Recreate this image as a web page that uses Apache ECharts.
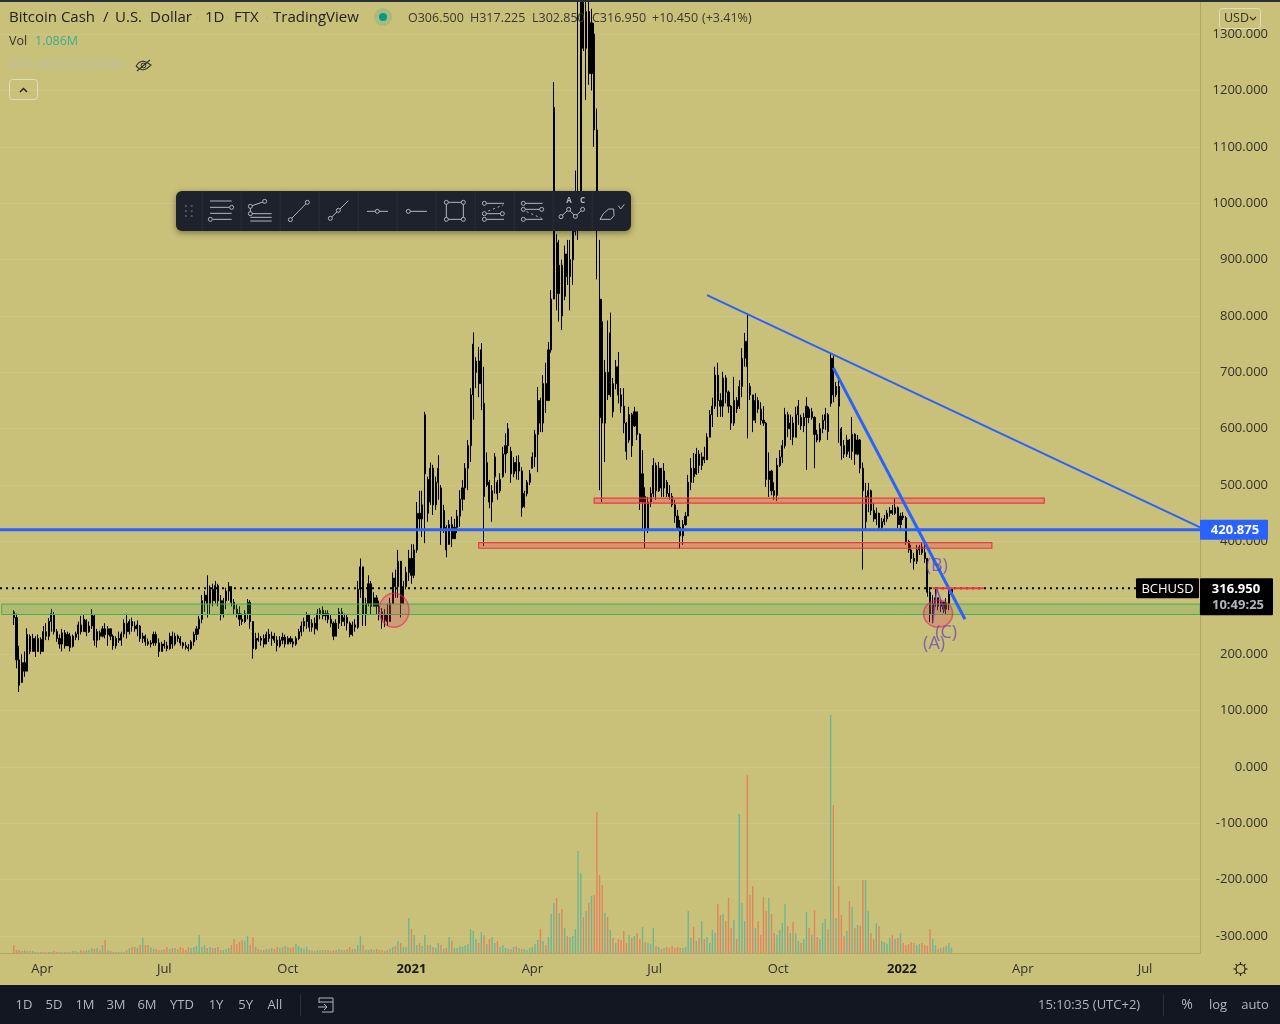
<!DOCTYPE html>
<html><head><meta charset="utf-8"><title>BCHUSD</title>
<style>html,body{margin:0;padding:0;background:#c9c079;overflow:hidden}#c{width:1280px;height:1024px}</style>
<script src="https://cdn.jsdelivr.net/npm/echarts@6/dist/echarts.min.js"></script></head>
<body><div id="c"></div>
<script>
const startDate='2020-03-11', stepDays=2;
const opens=[
275,265,190,150,185,170,232,205,228,205,
226,205,240,232,258,270,240,228,218,238,
215,232,214,230,236,252,240,260,240,250,
268,225,238,232,245,235,245,232,215,228,
225,236,255,240,258,250,245,250,228,232,
222,218,220,235,220,205,218,215,210,232,
218,232,228,220,215,212,210,222,235,245,
262,295,305,290,315,295,322,295,270,295,
312,320,292,280,272,262,258,272,292,258,
210,228,225,228,218,235,228,232,225,215,
225,230,218,228,222,218,228,240,250,258,
270,248,255,245,272,278,268,272,262,255,
232,255,275,258,265,255,235,252,248,315,
355,270,290,325,285,300,285,275,260,270,
258,290,335,320,365,290,320,345,370,340,
385,450,440,520,510,470,530,465,505,495,
420,425,395,430,405,425,445,475,495,530,
570,660,700,720,680,645,500,505,470,515,
505,490,515,555,570,560,520,540,525,525,
462,485,505,530,550,590,650,610,680,650,
740,830,930,840,890,835,910,870,900,950,
1000,1000,1380,1275,1340,1230,1300,1130,830,790,
610,700,660,680,680,710,660,640,610,580,
625,605,630,590,470,480,420,470,485,535,
490,530,495,505,485,480,465,445,425,410,
430,445,505,530,520,555,535,550,545,585,
625,640,695,650,640,690,665,640,610,650,
640,675,725,755,675,660,615,650,635,615,
610,510,525,490,482,535,550,570,625,600,
610,585,625,620,605,620,635,620,620,590,
580,600,615,625,645,725,660,675,600,570,
555,580,560,590,555,580,530,435,480,490,
455,440,450,425,435,440,450,455,450,460,
430,445,442,400,385,370,365,385,390,380,
370,310,270,290,300,285,292,280,290,306.5];
const closes=[
265,190,145,185,170,235,205,228,205,228,
205,240,232,258,272,240,228,218,238,215,
235,212,232,236,252,240,262,240,250,270,
225,240,232,245,235,245,232,215,228,225,
236,255,240,258,250,245,252,228,232,222,
218,220,235,220,205,218,215,210,232,218,
232,228,220,215,212,210,222,235,245,262,
295,305,290,315,295,322,295,270,295,312,
320,292,280,272,262,258,272,292,258,210,
228,225,228,218,235,228,232,225,215,225,
230,218,228,222,218,228,240,250,258,270,
248,255,245,272,278,268,272,262,255,232,
255,275,258,265,255,235,252,248,315,355,
270,290,325,285,300,285,275,260,270,258,
290,335,320,365,290,320,345,370,340,385,
450,440,465,625,450,530,465,505,530,420,
455,385,430,405,425,445,475,495,530,570,
660,750,720,680,740,480,540,470,490,550,
485,510,555,570,600,520,540,525,540,460,
485,505,520,550,590,650,610,680,650,740,
830,1170,840,890,800,910,870,900,950,1020,
1020,1380,1275,1340,1230,1320,1130,1000,620,610,
700,660,770,630,710,660,640,610,560,625,
570,630,590,470,520,420,470,485,535,490,
530,495,525,485,480,465,445,425,410,430,
445,505,530,515,555,535,550,545,585,625,
640,695,650,640,690,665,640,610,650,635,
675,725,755,710,660,615,650,635,615,610,
510,525,490,482,535,550,570,625,600,610,
585,625,640,605,620,640,620,630,590,580,
600,615,625,595,725,660,675,640,570,555,
580,560,590,555,580,530,490,480,490,455,
440,450,425,435,440,450,455,450,460,430,
445,442,400,385,370,365,385,390,380,370,
310,270,290,300,285,292,280,290,306.5,316.95];
const lows=[
252,175,133,150,160,170,200,205,195,205,
200,205,225,225,240,235,222,210,205,210,
215,205,212,225,225,235,240,232,238,245,
215,212,225,230,228,215,225,208,210,220,
215,230,228,235,240,240,232,222,220,215,
215,212,215,215,195,205,210,205,208,210,
215,222,215,210,208,205,208,215,225,235,
255,275,265,270,285,290,285,260,265,280,
295,285,270,265,250,252,255,262,245,192,
208,222,215,212,218,222,215,220,205,212,
218,212,218,218,212,215,225,232,240,245,
240,240,235,242,262,262,260,255,248,225,
232,245,250,250,242,230,232,240,245,300,
250,250,285,270,285,270,260,245,248,250,
258,290,300,300,265,290,315,330,325,335,
380,420,408,397,435,465,447,456,474,394,
415,372,394,390,405,415,426,455,474,491,
541,616,672,656,633,392,497,459,435,485,
474,486,513,521,557,504,514,510,509,444,
460,480,500,530,532,523,594,594,628,650,
735,830,810,790,775,828,855,810,855,943,
935,1000,1270,1183,1210,1200,1100,865,491,470,
541,651,656,620,670,645,628,592,545,575,
550,603,580,456,420,388,415,461,479,474,
488,479,479,479,474,461,433,420,387,394,
428,445,491,504,518,521,527,539,545,585,
603,635,621,621,621,645,628,598,605,628,
635,656,710,583,651,594,610,628,607,605,
497,479,482,474,472,532,539,565,585,580,
571,585,607,598,594,527,610,616,530,576,
576,592,598,580,639,647,656,575,545,548,
550,548,545,536,553,521,350,420,452,447,
435,429,420,420,429,435,444,447,447,424,
422,438,394,380,362,350,360,376,376,362,
302,257,255,284,278,275,273,270,278,302.85];
const highs=[
278,272,215,200,205,246,235,236,232,235,
230,250,255,264,280,275,245,235,245,243,
240,238,235,240,258,268,270,262,258,280,
270,245,242,250,255,250,245,235,232,240,
240,262,272,262,265,258,260,252,238,235,
228,225,240,240,228,222,225,222,238,240,
238,235,232,222,222,218,225,240,250,268,
305,312,340,322,325,330,325,305,300,318,
328,320,298,288,285,272,278,298,296,258,
238,238,232,235,240,245,240,238,232,232,
238,235,232,232,228,232,245,258,265,275,
270,262,265,280,282,285,278,278,270,258,
262,282,282,272,270,258,258,262,330,370,
355,300,340,330,310,305,295,282,280,290,
300,345,350,385,365,330,355,385,395,395,
470,490,490,630,515,540,536,515,553,500,
465,429,438,444,440,456,491,509,539,580,
672,771,727,745,752,710,558,509,500,557,
509,521,568,592,610,568,550,552,553,532,
490,509,527,558,598,674,655,695,717,754,
846,1215,945,935,900,925,935,935,960,1058,
1400,1400,1420,1410,1400,1345,1320,1168,935,830,
722,792,806,690,722,736,672,672,612,639,
628,639,630,592,562,496,479,496,548,540,
541,530,539,509,500,486,474,456,438,438,
452,518,548,557,566,562,558,568,592,633,
655,710,717,663,701,695,668,642,692,656,
686,743,770,805,681,660,663,656,647,640,
612,558,527,505,548,562,580,637,630,625,
621,639,651,625,628,656,639,637,622,598,
610,625,637,628,733,730,683,686,603,580,
589,582,621,592,589,582,540,504,504,492,
468,460,451,442,447,456,461,465,477,462,
451,452,445,403,394,380,394,394,397,399,
370,319,305,319,300,296,293,300,318,317.225];
const volumesM=[
1.6,.6,.6,.4,.6,.4,.4,.4,.2,.2,
.2,.2,.2,.2,.2,.4,.2,.2,.2,.2,
.2,.2,.4,.4,.2,.6,.4,.6,.6,1,
.8,1,.6,1.6,2.6,.6,.4,.2,.2,.2,
.2,.2,.6,1,1.2,1.2,1,1.6,3,1.6,
1.6,1.2,.8,.8,.6,.6,.8,1.2,.8,1,
1,.8,1.2,1,.6,1.2,1,1.2,1.4,3.6,
1.2,1.6,1,1.2,1,1,1.2,.6,.6,.8,
1,1.6,2.8,1.8,2.2,2.6,2.4,3.4,1.6,3.2,
1.2,.8,.6,.6,.8,.8,1,.8,1.2,1,
1.2,1.4,1.2,1,1.2,1.8,1.4,1,.8,1.2,
.6,.6,.4,.6,.6,.6,.6,.6,.4,.6,
.6,.8,.6,.6,.8,1.2,.8,.8,1.6,3.4,
1.6,.6,.6,.8,.6,.8,.6,.6,.4,.6,
.8,1.2,1.4,2.4,2,1.2,1.2,7,4.8,3.6,
1.6,2,1.4,3.6,1.6,1.6,1.2,1,2,1.6,
.8,1,3.2,2.4,1,1,1.4,1.2,1.6,1.8,
4.8,4.4,2.8,2,4.2,3.6,1.8,2.8,3.2,2,
2.4,1.2,1.6,1,.8,.8,1.2,1.4,1,.8,
.8,.6,1,1.2,1.8,2.6,4.8,2.4,1.6,3.2,
7.8,10,11,8,8.8,5,3.4,3.2,3.4,4.8,
20.4,16,7.2,8.4,10,11.4,11.6,28.2,15.6,13.6,
8,7.2,4.6,3,2,2.8,2.6,4.4,2,3.6,
3,3.4,4,2.8,5.2,2.2,2,1.8,5,1.4,
1.2,.8,1,1.2,1,1.4,1,1.2,1,1,
1.2,8.4,3,5.2,2.4,3,6.4,2.8,3.2,2,
4.6,4,9.8,7.6,7.8,6.4,11,5,6.6,2.8,
27.8,10,6.4,35.6,11.6,13.4,5,6.4,3.6,11.2,
8.4,11,7.8,4,3.6,4.6,6,9.8,5.4,4,
6.2,4,2.4,2,2.8,8.2,5,3.6,8.6,3.2,
2.8,6,6.8,4.8,47.6,29.6,7,13.4,7.6,3.4,
4.4,10.4,9.2,5,5.6,5.4,14.6,14.6,8.4,4,
2.8,6,5.4,2.4,2.2,1.8,3,3.6,2.8,3,
4,2,1.6,1.8,2.2,2,1.6,1.8,2,1.6,
1.4,4.8,2.8,1.6,.8,1,1.2,1.4,2,1.086];
const priceTicks=[-300,-200,-100,0,100,200,300,400,500,600,700,800,900,1000,1100,1200,1300];
const timeTickDates=['2020-04-01','2020-07-01','2020-10-01','2021-01-01','2021-04-01','2021-07-01','2021-10-01','2022-01-01','2022-04-01','2022-07-01'];
const timeTickLabels=['Apr','Jul','Oct','2021','Apr','Jul','Oct','2022','Apr','Jul'];
const lastPrice=316.95, levelPrice=420.875;
const longTrend=[['2021-08-09',837],['2022-08-11',425]];
const steepTrend=[['2021-11-11',708],['2022-02-17',262]];
const redShort=[['2022-01-24',316.95],['2022-03-03',316.95]];
const lastLineEnd='2022-06-25';
const abcPath=[['2022-01-24',256],['2022-01-27',316],['2022-02-02',276]];
const greenZone=[['2020-03-02',289],['2022-08-11',270.5]];
const redZones=[[['2021-05-17',477],['2022-04-17',468]],[['2021-02-20',398],['2022-03-09',388]]];
const circles=[['2020-12-19',278,[30,34]],['2022-01-28',272,[29,27]]];
const waveLabels=[['2022-01-27',356,'(B)'],['2022-01-25',218,'(A)'],['2022-02-03',238,'(C)']];

const DAY=864e5, FONT='"Open Sans","Noto Sans",sans-serif';
const ts=s=>Date.parse(s+'T00:00:00Z');
const pxPerDay=1.3435, axisMin=ts('2020-04-01')-42/pxPerDay*DAY, axisMax=axisMin+1200/pxPerDay*DAY;
const times=opens.map((_,i)=>ts(startDate)+i*stepDays*DAY);
const pts=a=>a.map(p=>[ts(p[0]),p[1]]);
const UP='#6fb591', DOWN='#e2845f';

const chart=echarts.init(document.getElementById('c'),null,{renderer:'canvas'});
const BG='#c9c079', AXIS='#aea768', TXT='#33322a', MUTED='#b2b5be';
const tickTimes=timeTickDates.map(ts);

function baseOption(){return {
 animation:false,backgroundColor:BG,
 grid:{left:0,top:2,width:1200,height:951,containLabel:false},
 xAxis:{type:'value',min:axisMin,max:axisMax,
  axisLine:{show:true,onZero:false,lineStyle:{color:AXIS,width:1}},axisTick:{show:false},splitLine:{show:false},
  axisLabel:{customValues:tickTimes,margin:10,hideOverlap:false,showMinLabel:true,showMaxLabel:true,color:TXT,fontFamily:FONT,fontSize:13,
   formatter:v=>{const t=timeTickLabels[tickTimes.indexOf(+v)]||'';return /^\d+$/.test(t)?'{b|'+t+'}':t;},
   rich:{b:{fontWeight:'bold',fontSize:13,fontFamily:FONT,color:'#1c1c16'}}}},
 yAxis:[{type:'value',position:'right',min:-330,max:1357,scale:false,
   axisLine:{show:true,onZero:false,lineStyle:{color:AXIS,width:1}},axisTick:{show:false},splitLine:{show:false},
   axisLabel:{customValues:priceTicks,align:'right',margin:68,color:TXT,fontFamily:FONT,fontSize:13,showMinLabel:true,showMaxLabel:true,hideOverlap:false,formatter:v=>(+v).toFixed(3)}},
  {type:'value',min:0,max:190.2,show:false,splitLine:{show:false}}],
 series:[
  {type:'bar',name:'Vol',yAxisIndex:1,barWidth:1.4,z:1,silent:true,
   data:volumesM.map((v,i)=>({value:[times[i],v],itemStyle:{color:closes[i]>=opens[i]?UP:DOWN}}))},
  {type:'candlestick',name:'BCHUSD',barWidth:1.6,z:2,silent:true,clip:true,
   itemStyle:{color:'#000',color0:'#000',borderColor:'#000',borderColor0:'#000',borderWidth:1},
   data:times.map((t,i)=>[t,opens[i],closes[i],lows[i],highs[i]]),
   markLine:{silent:true,symbol:'none',z:0,animation:false,label:{show:false},lineStyle:{color:'rgba(255,255,255,0.10)',width:1,type:'solid'},
    data:priceTicks.map(v=>({yAxis:v}))}},
  {type:'line',name:'level',z:5,silent:true,showSymbol:false,lineStyle:{color:'#2962ff',width:3},
   data:[[axisMin,levelPrice],[axisMax,levelPrice]],
   markArea:{silent:true,z:4,animation:false,label:{show:false},data:[
    [{coord:[ts(greenZone[0][0]),greenZone[0][1]],itemStyle:{color:'rgba(76,175,80,0.2)',borderColor:'#4caf50',borderWidth:1}},{coord:[ts(greenZone[1][0]),greenZone[1][1]]}],
    ...redZones.map(z=>[{coord:[ts(z[0][0]),z[0][1]],itemStyle:{color:'rgba(242,54,69,0.28)',borderColor:'#f23645',borderWidth:1.2}},{coord:[ts(z[1][0]),z[1][1]]}])
   ]}},
  {type:'line',name:'last',z:3,silent:true,showSymbol:false,lineStyle:{color:'#000',width:2,type:[2,4]},data:[[axisMin,lastPrice],[ts(lastLineEnd),lastPrice]]},
  {type:'line',name:'long trend',z:5,silent:true,showSymbol:false,lineStyle:{color:'#2962ff',width:2},data:pts(longTrend)},
  {type:'line',name:'steep trend',z:5,silent:true,showSymbol:false,lineStyle:{color:'#2962ff',width:3},data:pts(steepTrend)},
  {type:'line',name:'res',z:5,silent:true,showSymbol:false,lineStyle:{color:'#f23645',width:2},data:pts(redShort)},
  {type:'line',name:'abc',z:6,silent:true,showSymbol:false,lineStyle:{color:'#673ab7',width:1.5,opacity:.8},data:pts(abcPath)},
  {type:'scatter',name:'circles',z:6,silent:true,
   data:circles.map(c=>({value:[ts(c[0]),c[1]],symbolSize:c[2]})),
   itemStyle:{color:'rgba(233,30,99,0.28)',borderColor:'rgba(233,30,99,0.75)',borderWidth:1.5}},
  {type:'scatter',name:'waves',z:7,silent:true,symbolSize:1,itemStyle:{color:'rgba(0,0,0,0)'},
   data:waveLabels.map(w=>({value:[ts(w[0]),w[1]],label:{show:true,position:'inside',formatter:w[2],color:'rgba(96,56,196,0.85)',fontFamily:FONT,fontSize:18}}))}
 ]};}

/* interface chrome */
const G=[];
const text=(x,y,t,fill,font,align)=>G.push({type:'text',x,y,z:100,silent:true,style:{text:t,fill,font:font||('13px '+FONT),align:align||'left',verticalAlign:'middle'}});
const rect=(x,y,w,h,o,r)=>G.push({type:'rect',z:o.z||100,silent:true,shape:{x,y,width:w,height:h,r:r||0},style:o});
const line=(x1,y1,x2,y2,c,w,dash)=>G.push({type:'line',z:101,silent:true,shape:{x1,y1,x2,y2},style:{stroke:c,lineWidth:w||1,lineDash:dash}});
const circ=(cx,cy,r,o)=>G.push({type:'circle',z:102,silent:true,shape:{cx,cy,r},style:o});
const poly=(p,c,w)=>G.push({type:'polyline',z:101,silent:true,shape:{points:p},style:{stroke:c,lineWidth:w||1,fill:'none'}});

rect(0,0,1280,2,{fill:'#2a2e39'});
const H14='15px '+FONT;
text(9,18,'Bitcoin Cash','#23231c',H14);text(103,18,'/','#23231c',H14);text(115,18,'U.S.','#23231c',H14);text(150,18,'Dollar','#23231c',H14);
text(205,18,'1D','#23231c',H14);text(234,18,'FTX','#23231c',H14);text(273,18,'TradingView','#23231c',H14);
[197.5,227,267].forEach(x=>circ(x,18,1.2,{fill:'#b9b79a'}));
circ(383,17,9,{fill:'rgba(38,166,154,0.2)'});circ(383,17,4,{fill:'#089981'});
[[408,'O306.500'],[470,'H317.225'],[532,'L302.850'],[592,'C316.950'],[652,'+10.450'],[702,'(+3.41%)']].forEach(a=>text(a[0],18,a[1],'#3a392f','12.5px '+FONT));
text(9,41.5,'Vol','#33322a','12.5px '+FONT);text(35,41.5,'1.086M','#3fae93','12.5px '+FONT);
text(9,65.5,'EMA 20/50/100/200','#bdbda4','12.5px '+FONT);
poly([[136,66],[139,62.5],[143,61],[147,62.5],[151,65],[147,68.5],[143,70],[139,68.5],[136,66]],'#33322a',1.1);
circ(143.5,65.5,2.4,{fill:'none',stroke:'#33322a',lineWidth:1});line(137,71,150,60,'#33322a',1.1);
rect(9.5,79.5,28,20,{fill:'none',stroke:'#e0ddc0',lineWidth:1},3);poly([[20,92],[23.5,88.5],[27,92]],'#23231c',1.4);
rect(1219.5,8.5,41,20,{fill:'rgba(201,192,121,.9)',stroke:'#dfdcc0',lineWidth:1},3);
text(1224,18.5,'USD','#33322a','12.5px '+FONT);poly([[1250,17],[1253,20],[1256,17]],'#33322a',1.1);
G.push({type:'rect',z:99,silent:true,shape:{x:176,y:191,width:455,height:40,r:6},style:{fill:'#1e222d',shadowBlur:6,shadowOffsetY:2,shadowColor:'rgba(0,0,0,.4)'}});
const tx=z=>170+z/3, ty=z=>185+z/3, IC='#b2b5be';
[95,212,329,446,563,680,797,914,1031,1148,1265].forEach(z=>line(tx(z)+.5,191,tx(z)+.5,231,'#2a2e39',1));
[48,65].forEach(a=>[63,78,93].forEach(b=>rect(tx(a)-1,ty(b)-1,2,2,{fill:'#50535e'})));
const tl=(a,b,c,d,dash)=>line(tx(a),ty(b),tx(c),ty(d),IC,1,dash);
const tc=(a,b)=>circ(tx(a),ty(b),2,{fill:'#1e222d',stroke:IC,lineWidth:1});
tl(120,48,185,48);tl(120,67,178,67);tl(120,85,185,85);tl(128,103,185,103);tc(185,67);tc(121,103);
tl(241,64,284,49);tl(241,64,241,86);tl(241,86,305,86);tl(241,97,305,97);tl(241,108,305,108);tc(241,64);tc(284,49);tc(241,86);
tl(361,104,412,52);tc(361,104);tc(412,52);
tl(481,100,535,47);tc(481,100);tc(505,76);
tl(591,79,654,79);tc(622,79);
tl(715,79,771,79);tc(715,79);
tl(829,52,880,52);tl(880,52,880,103);tl(880,103,829,103);tl(829,103,829,52);tc(829,52);tc(880,52);tc(829,103);tc(880,103);
tl(943,55,1002,55);tl(943,86,997,86);tl(943,103,1002,103);tl(955,78,1000,60,[2,3]);tc(943,55);tc(943,86);tc(997,86);tc(943,103);
tl(1060,55,1118,55);tl(1060,73,1115,73);tl(1060,103,1118,103);tl(1070,80,1115,100,[2,3]);tc(1060,55);tc(1060,73);tc(1115,73);tc(1060,103);
text(tx(1197),ty(48),'A',IC,'bold 8px '+FONT,'center');text(tx(1238),ty(48),'C',IC,'bold 8px '+FONT,'center');
tl(1173,95,1196,73);tl(1196,73,1216,94);tl(1216,94,1238,73);tc(1173,95);tc(1196,73);tc(1216,94);tc(1238,73);
poly([[1290,103],[1322,103],[1332,92],[1331,72],[1316,72],[1300,86],[1290,103]].map(p=>[tx(p[0]),ty(p[1])]),IC,1);
poly([[1345,62],[1352,72],[1363,58]].map(p=>[tx(p[0]),ty(p[1])]),IC,1);
circ(1240.5,969,4.5,{fill:'none',stroke:'#23231c',lineWidth:1.2});
[[0,-1],[.7,-.7],[1,0],[.7,.7],[0,1],[-.7,.7],[-1,0],[-.7,-.7]].forEach(d=>line(1240.5+d[0]*4.5,969+d[1]*4.5,1240.5+d[0]*7,969+d[1]*7,'#23231c',1.2));
rect(0,985,1280,39,{fill:'#131722'});
[[24,'1D'],[54,'5D'],[85,'1M'],[116,'3M'],[147,'6M'],[182,'YTD'],[216,'1Y'],[245.7,'5Y'],[275,'All']].forEach(a=>text(a[0],1005.5,a[1],MUTED,'13px '+FONT,'center'));
line(300.5,994,300.5,1016,'#2a2e39',1);
poly([[319,1003],[319,998],[333,998],[333,1012],[322,1012]],MUTED,1);line(319,1002,333,1002,MUTED,1);line(318,1007,327,1007,MUTED,1);poly([[324,1004],[327,1007],[324,1010]],MUTED,1);
text(1038,1005.5,'15:10:35 (UTC+2)',MUTED,'13px '+FONT);
line(1163.5,994,1163.5,1016,'#2a2e39',1);
text(1187,1005.5,'%',MUTED,'14px '+FONT,'center');text(1218,1005,'log',MUTED,'13px '+FONT,'center');text(1255,1005,'auto',MUTED,'13px '+FONT,'center');

chart.setOption(Object.assign(baseOption(),{graphic:{elements:G}}));
const yOf=v=>chart.convertToPixel({yAxisIndex:0},v);
const yL=yOf(levelPrice), yP=yOf(lastPrice);
const B='bold 13px '+FONT;
rect(1200,yL-10,68,20,{fill:'#2962ff'},1);text(1235,yL+.5,levelPrice.toFixed(3),'#fff',B,'center');
rect(1136,yP-10,63,20,{fill:'#000'},1);text(1167.5,yP+1,'BCHUSD','#fff','13px '+FONT,'center');
rect(1200,yP-10,73,37,{fill:'#000'},1);text(1236,yP+1,lastPrice.toFixed(3),'#fff',B,'center');text(1238,yP+17,'10:49:25','#b2b5be',B,'center');
chart.setOption({graphic:{elements:G}});
</script></body></html>
